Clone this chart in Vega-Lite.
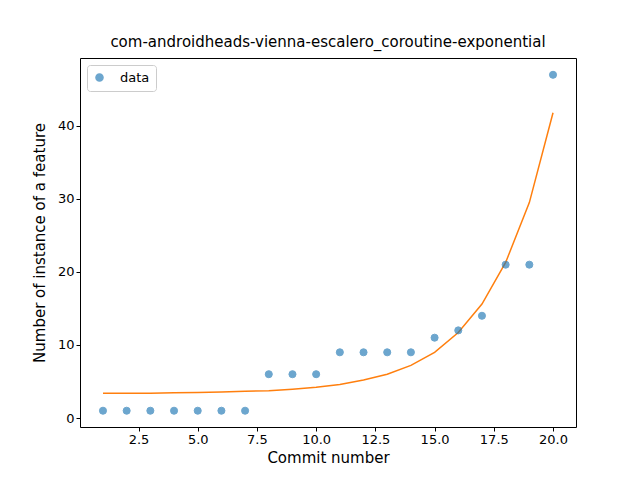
{
  "$schema": "https://vega.github.io/schema/vega-lite/v6.json",
  "width": 496,
  "height": 369,
  "autosize": {"type": "none"},
  "padding": {"left": 80, "top": 58, "right": 64, "bottom": 53},
  "background": "white",
  "config": {
    "font": "DejaVu Sans",
    "view": {"stroke": "black", "strokeWidth": 1},
    "axis": {"grid": false, "domain": false, "tickColor": "black", "labelColor": "black", "labelFontSize": 13, "titleFontSize": 15, "titleFontWeight": "normal", "titleColor": "black", "tickSize": 4}
  },
  "title": {"text": "com-androidheads-vienna-escalero_coroutine-exponential", "fontSize": 15, "fontWeight": "normal", "offset": 8, "color": "black"},
  "data": {"values": [
    {"x": 1, "y": 1, "fit": 3.4}, {"x": 2, "y": 1, "fit": 3.4}, {"x": 3, "y": 1, "fit": 3.4},
    {"x": 4, "y": 1, "fit": 3.45}, {"x": 5, "y": 1, "fit": 3.5}, {"x": 6, "y": 1, "fit": 3.55},
    {"x": 7, "y": 1, "fit": 3.65}, {"x": 8, "y": 6, "fit": 3.75}, {"x": 9, "y": 6, "fit": 3.95},
    {"x": 10, "y": 6, "fit": 4.2}, {"x": 11, "y": 9, "fit": 4.6}, {"x": 12, "y": 9, "fit": 5.2},
    {"x": 13, "y": 9, "fit": 6.0}, {"x": 14, "y": 9, "fit": 7.2}, {"x": 15, "y": 11, "fit": 9.0},
    {"x": 16, "y": 12, "fit": 11.7}, {"x": 17, "y": 14, "fit": 15.6}, {"x": 18, "y": 21, "fit": 21.3},
    {"x": 19, "y": 21, "fit": 29.5}, {"x": 20, "y": 47, "fit": 41.8}
  ]},
  "encoding": {
    "x": {"field": "x", "type": "quantitative", "title": "Commit number",
      "scale": {"domain": [0.03, 20.97], "nice": false, "zero": false},
      "axis": {"values": [2.5, 5, 7.5, 10, 12.5, 15, 17.5, 20], "format": ".1f"}}
  },
  "layer": [
    {
      "mark": {"type": "line", "color": "#ff7f0e", "strokeWidth": 1.5},
      "encoding": {"y": {"field": "fit", "type": "quantitative"}}
    },
    {
      "mark": {"type": "point", "filled": true, "opacity": 0.65, "size": 50, "shape": "circle", "stroke": "#1f77b4", "strokeWidth": 1},
      "encoding": {
        "y": {"field": "y", "type": "quantitative", "title": "Number of instance of a feature",
          "scale": {"domain": [-1.23, 49.3], "nice": false, "zero": false},
          "axis": {"values": [0, 10, 20, 30, 40], "titlePadding": 10}},
        "color": {"datum": "data", "scale": {"range": ["#1f77b4"]},
          "legend": {"title": null, "orient": "top-left", "labelFontSize": 13, "strokeColor": "#cccccc", "fillColor": "white", "padding": 6, "cornerRadius": 3, "symbolOpacity": 0.65, "symbolSize": 50, "offset": 7, "labelOffset": 14}}
      }
    }
  ]
}
